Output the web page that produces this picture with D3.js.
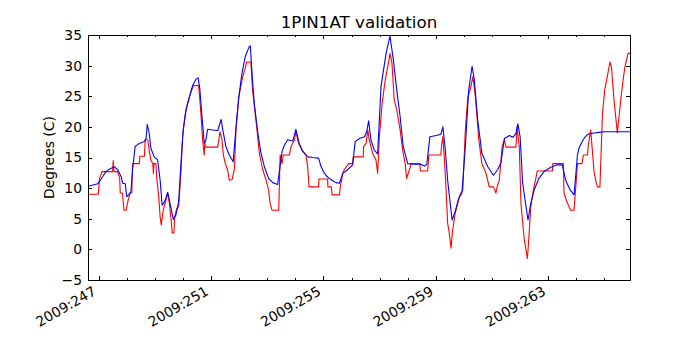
<!DOCTYPE html>
<html>
<head>
<meta charset="utf-8">
<script src="https://cdn.jsdelivr.net/npm/d3@7"></script>
<style>
	body { margin: 0; background: #fff; }
	svg { display: block; font-family: "DejaVu Sans", sans-serif; }
</style>
</head>
<body>
<svg id="chart"></svg>
<script>
const SVG_WIDTH = 700;
const SVG_HEIGHT = 350;
const LEFT = 88;
const RIGHT = 630;
const TOP = 35;
const BOTTOM = 280;

const chartTitle = "1PIN1AT validation";
const yLabel = "Degrees (C)";
const dayDomain = [246.623, 265.91];
const tempDomain = [-5, 35];
const majorDays = [247, 251, 255, 259, 263];
const minorDays = d3.range(247, 266);
const tempTicks = [-5, 0, 5, 10, 15, 20, 25, 30, 35];

// model (blue)
const modelDays = [246.62, 246.97, 247.15, 247.26, 247.38, 247.56, 247.68, 247.80, 247.86, 247.95,
	248.00, 248.07, 248.15, 248.21, 248.30, 248.45, 248.63, 248.69, 248.73, 248.80,
	248.86, 248.98, 249.10, 249.19, 249.26, 249.35, 249.46, 249.54, 249.66, 249.75,
	249.85, 249.93, 250.01, 250.11, 250.23, 250.35, 250.47, 250.54, 250.60, 250.68,
	250.76, 250.82, 250.88, 251.06, 251.24, 251.36, 251.42, 251.53, 251.65, 251.79,
	251.89, 251.99, 252.10, 252.22, 252.36, 252.40, 252.46, 252.54, 252.66, 252.78,
	252.90, 253.05, 253.20, 253.37, 253.53, 253.61, 253.73, 253.91, 254.02, 254.14,
	254.26, 254.45, 254.61, 254.83, 254.91, 255.00, 255.09, 255.20, 255.33, 255.45,
	255.57, 255.69, 255.86,
	256.04, 256.13, 256.28, 256.46, 256.54, 256.61, 256.69, 256.81, 256.93, 257.05,
	257.23, 257.37, 257.49, 257.61, 257.73, 257.84, 258.00, 258.18, 258.37, 258.47,
	258.59, 258.68, 258.79, 259.01, 259.18, 259.25, 259.34, 259.42, 259.58, 259.69,
	259.81, 259.93, 260.05, 260.17, 260.29, 260.37, 260.49, 260.64, 260.85, 261.05,
	261.20, 261.32, 261.44, 261.62, 261.74, 261.85, 261.92, 262.00, 262.09, 262.14,
	262.28, 262.38, 262.50, 262.67, 262.85, 263.09, 263.32, 263.50, 263.62, 263.78,
	263.92, 264.04, 264.10, 264.21, 264.30, 264.39, 264.50, 264.63, 264.80, 264.99, 265.91];
const modelTemps = [10.3, 10.7, 11.9, 12.7, 13.1, 13.5, 13.0, 11.9, 10.8, 10.7,
	8.6, 8.9, 9.4, 13.0, 16.8, 17.3, 17.6, 18.1, 20.4, 19.0,
	16.5, 15.1, 14.6, 11.3, 7.2, 7.8, 9.3, 7.5, 4.9, 5.6,
	7.8, 14.0, 19.5, 22.8, 24.9, 26.8, 27.8, 28.0, 26.3, 21.7,
	17.3, 17.9, 19.6, 19.5, 19.4, 21.2, 19.5, 16.8, 15.4, 14.3,
	20.0, 24.9, 28.7, 31.5, 33.1, 33.2, 28.7, 23.8, 19.2, 15.7,
	13.5, 11.6, 10.9, 10.6, 16.0, 17.0, 17.9, 17.7, 19.6, 17.3,
	16.0, 15.1, 15.0, 14.9, 13.6, 12.7, 12.1, 11.6, 11.2, 10.9,
	10.8, 12.4, 13.0,
	13.8, 17.6, 18.1, 18.4, 19.2, 21.0, 17.9, 16.2, 15.6, 26.6,
	32.0, 34.8, 30.9, 26.0, 21.7, 16.8, 14.0, 13.9, 13.9, 13.9,
	13.6, 13.9, 18.4, 18.6, 18.8, 20.0, 16.2, 11.3, 4.8, 6.2,
	8.3, 9.2, 16.8, 26.0, 29.9, 27.7, 21.1, 15.7, 13.5, 12.1,
	13.0, 14.2, 18.1, 18.6, 18.3, 18.9, 20.5, 18.4, 10.8, 9.2,
	4.8, 7.5, 9.7, 11.6, 12.7, 13.4, 13.8, 13.8, 11.3, 9.7,
	8.9, 15.4, 16.6, 17.6, 18.3, 18.7, 18.9, 19.0, 19.1, 19.2, 19.2];

// observed (red)
const obsDays = [246.62, 246.99, 247.03, 247.12, 247.50, 247.52, 247.55, 247.68, 247.75, 247.77,
	247.85, 247.90, 247.98, 248.04, 248.12, 248.18, 248.21, 248.45, 248.47, 248.63,
	248.66, 248.75, 248.80, 248.86, 248.93, 248.95, 248.97, 249.04, 249.07, 249.14,
	249.19, 249.23, 249.30, 249.40, 249.46, 249.52, 249.59, 249.62, 249.68, 249.71,
	249.78, 249.85, 249.92, 249.99, 250.08, 250.17, 250.25, 250.37, 250.56, 250.64,
	250.70, 250.76, 250.78, 250.80, 251.24, 251.32, 251.39, 251.44, 251.51, 251.59,
	251.65, 251.75, 251.83, 251.89, 251.99, 252.07, 252.13, 252.22, 252.27, 252.42,
	252.48, 252.60, 252.72, 252.84, 252.96, 253.05, 253.10, 253.17, 253.41, 253.46,
	253.53, 253.57, 253.79, 253.85, 253.97, 254.02, 254.12, 254.24, 254.38, 254.44,
	254.49, 254.83, 254.84, 255.15, 255.16, 255.28, 255.31, 255.57, 255.60, 255.69,
	255.74, 255.90, 256.04, 256.06, 256.42, 256.43, 256.52, 256.58, 256.63, 256.75,
	256.87, 256.93, 256.99, 257.09, 257.20, 257.29, 257.37, 257.44, 257.52, 257.61,
	257.73, 257.82, 257.91, 257.96, 258.06, 258.12, 258.44, 258.45, 258.71, 258.75,
	259.18, 259.20, 259.25, 259.30, 259.36, 259.42, 259.48, 259.54, 259.60, 259.69,
	259.78, 259.86, 259.96, 260.05, 260.14, 260.22, 260.32, 260.41, 260.53, 260.64,
	260.79, 260.90, 261.05, 261.14, 261.18, 261.26, 261.36, 261.44, 261.50, 261.85,
	261.89, 261.97, 262.03, 262.15, 262.20, 262.26, 262.32, 262.38, 262.47, 262.56,
	262.61, 263.15, 263.16, 263.54, 263.56, 263.66, 263.80, 263.92, 263.98, 264.04,
	264.20, 264.25, 264.40, 264.42, 264.51, 264.57, 264.63, 264.69, 264.75, 264.84,
	264.93, 265.01, 265.08, 265.20, 265.25, 265.34, 265.46, 265.58, 265.67, 265.73,
	265.84, 265.91];
const obsTemps = [9.0, 9.0, 11.5, 12.7, 12.7, 14.5, 12.7, 12.7, 11.6, 9.2,
	9.2, 6.4, 6.4, 7.8, 9.2, 9.2, 14.0, 14.0, 15.2, 15.2,
	17.9, 17.9, 16.2, 14.6, 14.0, 12.4, 14.0, 14.0, 11.6, 8.6,
	5.3, 4.0, 6.4, 8.1, 9.2, 7.5, 4.3, 2.7, 2.7, 5.3,
	6.7, 7.0, 11.9, 18.4, 21.9, 23.8, 25.2, 26.7, 26.8, 22.2,
	17.9, 15.4, 17.5, 16.7, 16.7, 19.2, 17.9, 15.4, 14.0, 13.0,
	11.3, 11.4, 13.0, 19.5, 24.9, 26.8, 28.2, 29.6, 30.6, 30.6,
	26.0, 21.1, 15.7, 13.0, 11.3, 9.7, 7.6, 6.4, 6.4, 15.4,
	14.0, 15.4, 15.4, 16.8, 17.9, 19.2, 17.3, 16.2, 15.4, 13.5,
	10.2, 10.2, 11.5, 11.5, 10.2, 10.2, 8.9, 8.9, 10.2, 12.4,
	13.0, 14.0, 14.0, 15.1, 15.1, 16.8, 17.3, 19.5, 17.9, 15.7,
	14.6, 12.4, 18.4, 23.8, 27.7, 29.8, 32.0, 30.4, 24.4, 22.8,
	19.5, 16.2, 14.0, 11.6, 13.0, 14.0, 14.0, 12.8, 12.8, 15.4,
	15.4, 16.8, 18.4, 15.1, 10.2, 4.3, 2.6, 0.2, 3.2, 5.9,
	7.5, 8.9, 9.7, 19.5, 24.9, 26.0, 28.2, 24.9, 17.9, 14.0,
	12.4, 10.2, 10.2, 9.2, 10.2, 11.3, 16.8, 17.9, 16.7, 16.7,
	20.0, 16.8, 7.5, 1.5, 0.2, -1.5, 2.6, 7.0, 9.7, 11.6,
	12.8, 12.8, 14.0, 14.0, 9.2, 7.8, 6.4, 6.4, 10.2, 14.0,
	14.0, 15.4, 15.4, 16.8, 19.5, 16.2, 12.7, 11.3, 10.2, 10.2,
	22.2, 26.0, 27.7, 30.6, 29.8, 24.4, 19.0, 24.4, 27.9, 29.8,
	32.0, 32.0];

function renderChart() {
	const svg = d3.select("#chart")
		.attr("width", SVG_WIDTH)
		.attr("height", SVG_HEIGHT);

	const xScale = d3.scaleLinear().domain(dayDomain).range([LEFT, RIGHT]);
	const yScale = d3.scaleLinear().domain(tempDomain).range([BOTTOM, TOP]);

	// Clip so the lines stay inside the frame
	svg.append("clipPath").attr("id", "plotClip")
		.append("rect")
		.attr("x", LEFT).attr("y", TOP)
		.attr("width", RIGHT - LEFT).attr("height", BOTTOM - TOP);

	const line = d3.line()
		.x(function(d) {return xScale(d[0]);})
		.y(function(d) {return yScale(d[1]);});

	const obs = obsDays.map(function(d, i) {return [d, obsTemps[i]];});
	const model = modelDays.map(function(d, i) {return [d, modelTemps[i]];});

	const plot = svg.append("g").attr("clip-path", "url(#plotClip)");
	plot.append("path")
		.attr("d", line(obs))
		.attr("fill", "none").attr("stroke", "#ff0000").attr("stroke-width", 1.1)
		.attr("stroke-linejoin", "round");
	plot.append("path")
		.attr("d", line(model))
		.attr("fill", "none").attr("stroke", "#0000ff").attr("stroke-width", 1.1)
		.attr("stroke-linejoin", "round");

	// Ticks, all pointing inward
	function addAxis(axis, tx, ty) {
		const g = svg.append("g")
			.attr("transform", "translate(" + tx + "," + ty + ")")
			.call(axis);
		g.select(".domain").remove();
		g.selectAll("line").attr("stroke", "#000").attr("shape-rendering", "crispEdges");
		return g;
	}

	addAxis(d3.axisBottom(xScale).tickValues(minorDays).tickSize(-2).tickFormat(""), 0, BOTTOM);
	addAxis(d3.axisTop(xScale).tickValues(minorDays).tickSize(-2).tickFormat(""), 0, TOP);
	addAxis(d3.axisTop(xScale).tickValues(majorDays).tickSize(-4).tickFormat(""), 0, TOP);
	const xAxis = addAxis(d3.axisBottom(xScale).tickValues(majorDays).tickSize(-4)
		.tickFormat(function(d) {return "2009:" + d;}), 0, BOTTOM);
	xAxis.selectAll("text")
		.attr("y", 0).attr("dy", null)
		.attr("text-anchor", "end")
		.attr("font-size", "13.9px")
		.attr("font-family", "DejaVu Sans")
		.attr("fill", "#000")
		.attr("transform", "translate(-2,14) rotate(-30)");

	const yAxis = addAxis(d3.axisLeft(yScale).tickValues(tempTicks).tickSize(-4).tickPadding(6)
		.tickFormat(function(d) {return d < 0 ? "\u2212" + Math.abs(d) : d;}), LEFT, 0);
	yAxis.selectAll("text")
		.attr("font-size", "13.9px")
		.attr("font-family", "DejaVu Sans")
		.attr("fill", "#000");
	addAxis(d3.axisRight(yScale).tickValues(tempTicks).tickSize(-4).tickFormat(""), RIGHT, 0);

	// Frame
	svg.append("rect")
		.attr("x", LEFT + 0.5).attr("y", TOP + 0.5)
		.attr("width", RIGHT - LEFT).attr("height", BOTTOM - TOP)
		.attr("fill", "none").attr("stroke", "#000").attr("stroke-width", 1);

	// Title and label
	svg.append("text")
		.attr("x", (LEFT + RIGHT) / 2).attr("y", 28)
		.attr("text-anchor", "middle")
		.attr("font-size", "16.7px")
		.text(chartTitle);
	svg.append("text")
		.attr("transform", "translate(54," + ((TOP + BOTTOM) / 2) + ") rotate(-90)")
		.attr("text-anchor", "middle")
		.attr("font-size", "13.9px")
		.text(yLabel);
}

renderChart();
</script>
</body>
</html>
